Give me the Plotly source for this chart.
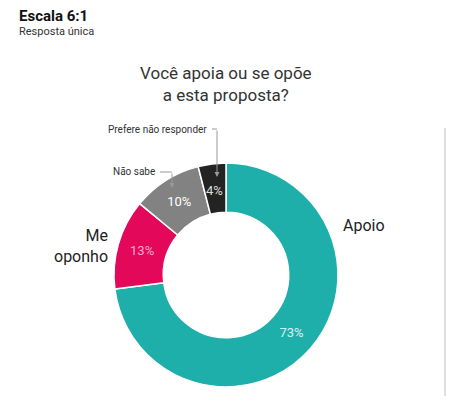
import plotly.graph_objects as go

# page body has an 8px margin, so the figure is drawn 8px in from the corner
OFF = 8
W, H = 470 - OFF, 408 - OFF

labels = ["Apoio", "Me oponho", "Não sabe", "Prefere não responder"]
values = [73, 13, 10, 4]
pct_text = ["73%", "13%", "10%", "4%"]
colors = ["#1FAFAA", "#E4085A", "#828282", "#232323"]
text_colors = ["#D8F2F0", "#F9A8C6", "#FFFFFF", "#DDDDDD"]

FONT = "Roboto"


def px(x):
    return (x - OFF) / W


def py(y):
    return 1 - (y - OFF) / H


cx, cy, r = 226, 275, 112

fig = go.Figure()

fig.add_trace(
    go.Pie(
        labels=labels,
        values=values,
        # the 4% label is placed by hand below, plotly pushes it too far out
        text=pct_text[:3] + [""],
        textinfo="text",
        textposition="inside",
        insidetextorientation="horizontal",
        textfont=dict(family=FONT, size=13, color=text_colors),
        hole=0.56,
        sort=False,
        direction="clockwise",
        rotation=0,
        marker=dict(colors=colors, line=dict(color="white", width=1.5)),
        domain=dict(x=[px(cx - r), px(cx + r)], y=[py(cy + r), py(cy - r)]),
        showlegend=False,
    )
)

annotations = [
    dict(x=px(17), y=py(16), text="<b>Escala 6:1</b>", font=dict(size=15, color="#111"),
         xanchor="left", yanchor="middle"),
    dict(x=px(17), y=py(31), text="Resposta única", font=dict(size=11, color="#333"),
         xanchor="left", yanchor="middle"),
    dict(x=px(226), y=py(84), text="Você apoia ou se opõe<br>a esta proposta?",
         font=dict(size=17, color="#333"), xanchor="center", yanchor="middle"),
    dict(x=px(341), y=py(225), text=labels[0], font=dict(size=16, color="#222"),
         xanchor="left", yanchor="middle"),
    dict(x=px(110), y=py(246), text="Me<br>oponho", align="right",
         font=dict(size=16, color="#222"), xanchor="right", yanchor="middle"),
    dict(x=px(157), y=py(172), text=labels[2], font=dict(size=10, color="#333"),
         xanchor="right", yanchor="middle"),
    dict(x=px(209), y=py(129), text=labels[3], font=dict(size=10, color="#333"),
         xanchor="right", yanchor="middle"),
    dict(x=px(214), y=py(190), text=pct_text[3], font=dict(size=13, color=text_colors[3]),
         xanchor="center", yanchor="middle"),
    # arrow tips of the callouts
    dict(x=px(172), y=py(188), ax=0, ay=-16, text="", showarrow=True, arrowhead=2,
         arrowsize=1, arrowwidth=1, arrowcolor="#999", standoff=0),
    dict(x=px(217), y=py(177), ax=0, ay=-48, text="", showarrow=True, arrowhead=2,
         arrowsize=1, arrowwidth=1, arrowcolor="#999", standoff=0),
]
for a in annotations:
    a.setdefault("xref", "paper")
    a.setdefault("yref", "paper")
    a.setdefault("showarrow", False)

shapes = [
    dict(type="line", x0=px(160), x1=px(172), y0=py(172), y1=py(172),
         line=dict(color="#999", width=1)),
    dict(type="line", x0=px(212), x1=px(217), y0=py(129), y1=py(129),
         line=dict(color="#999", width=1)),
    dict(type="line", x0=px(445), x1=px(445), y0=py(128), y1=py(396),
         line=dict(color="#D5D5D5", width=1.5)),
]
for s in shapes:
    s["xref"] = "paper"
    s["yref"] = "paper"

fig.update_layout(
    width=W,
    height=H,
    margin=dict(l=0, r=0, t=0, b=0),
    paper_bgcolor="white",
    plot_bgcolor="white",
    font=dict(family=FONT, color="#333"),
    annotations=annotations,
    shapes=shapes,
)

fig.write_html("out.html")
